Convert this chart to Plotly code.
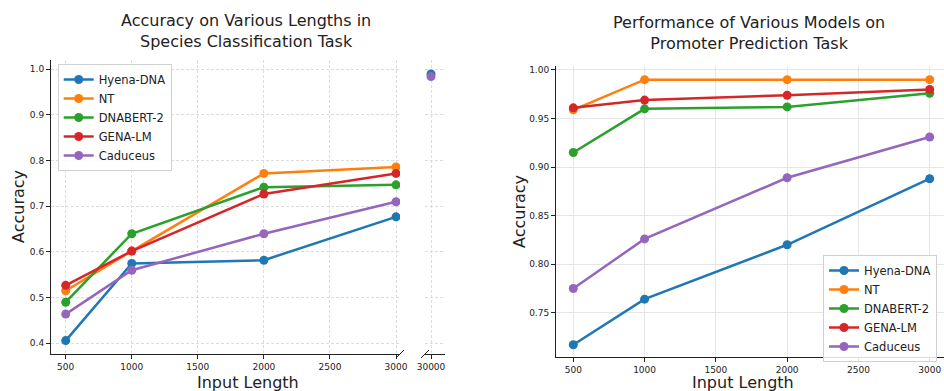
import plotly.graph_objects as go

W, H = 944, 391
models = ["Hyena-DNA", "NT", "DNABERT-2", "GENA-LM", "Caduceus"]
colors = ["#1f77b4", "#ff7f0e", "#2ca02c", "#d62728", "#9467bd"]

# Left chart: species classification
lengths = [500, 1000, 2000, 3000]
species_acc = {
    "Hyena-DNA": [0.406, 0.575, 0.582, 0.677],
    "NT": [0.515, 0.602, 0.772, 0.786],
    "DNABERT-2": [0.490, 0.640, 0.742, 0.747],
    "GENA-LM": [0.527, 0.602, 0.727, 0.772],
    "Caduceus": [0.464, 0.560, 0.640, 0.710],
}
long_length = [30000]
species_acc_long = {
    "Hyena-DNA": [0.990],
    "Caduceus": [0.984],
}
left_yticks = [0.4, 0.5, 0.6, 0.7, 0.8, 0.9, 1.0]
left_xticks = [500, 1000, 1500, 2000, 2500, 3000]

# Right chart: promoter prediction
promoter_acc = {
    "Hyena-DNA": [0.717, 0.764, 0.820, 0.888],
    "NT": [0.959, 0.990, 0.990, 0.990],
    "DNABERT-2": [0.915, 0.960, 0.962, 0.976],
    "GENA-LM": [0.961, 0.969, 0.974, 0.980],
    "Caduceus": [0.775, 0.826, 0.889, 0.931],
}
right_yticks = [0.75, 0.80, 0.85, 0.90, 0.95, 1.00]

FONT = "DejaVu Sans"

def px(x):
    return x / W

def py(y):
    return 1 - y / H

fig = go.Figure()

for m, c in zip(models, colors):
    fig.add_trace(go.Scatter(
        x=lengths, y=species_acc[m], name=m, mode="lines+markers",
        line=dict(color=c, width=2.5), marker=dict(color=c, size=9),
        xaxis="x", yaxis="y", legend="legend",
    ))
for m, c in zip(models, colors):
    if m in species_acc_long:
        fig.add_trace(go.Scatter(
            x=long_length, y=species_acc_long[m], name=m, mode="markers",
            marker=dict(color=c, size=9), showlegend=False,
            xaxis="x2", yaxis="y2",
        ))
for m, c in zip(models, colors):
    fig.add_trace(go.Scatter(
        x=lengths, y=promoter_acc[m], name=m, mode="lines+markers",
        line=dict(color=c, width=2.5), marker=dict(color=c, size=9),
        xaxis="x3", yaxis="y3", legend="legend2",
    ))

tickfont = dict(family=FONT, size=9, color="#222")
grid_dash = dict(showgrid=True, gridcolor="#dcdcdc", griddash="3px,2px", gridwidth=1)
axis_line = dict(showline=True, linecolor="#222", linewidth=1, ticks="outside",
                 ticklen=4, tickcolor="#222", tickfont=tickfont, zeroline=False,
                 automargin=False)

legend_font = dict(family=FONT, size=11.5, color="#222")

fig.update_layout(
    width=W, height=H, margin=dict(l=0, r=0, t=0, b=0, autoexpand=False),
    paper_bgcolor="white", plot_bgcolor="white",
    font=dict(family=FONT, color="#222"),
    xaxis=dict(domain=[px(51), px(400)], range=[388.7, 3030.3], anchor="y",
               tickvals=left_xticks, ticktext=[str(v) for v in left_xticks],
               **grid_dash, **axis_line),
    yaxis=dict(domain=[py(354), py(60)], range=[0.3766, 1.0204], anchor="x",
               tickvals=left_yticks, ticktext=[f"{v:.1f}" for v in left_yticks],
               **grid_dash, **axis_line),
    xaxis2=dict(domain=[px(425), px(445)], range=[29700, 30700], anchor="y2",
                tickvals=long_length, ticktext=[str(v) for v in long_length],
                **grid_dash, **axis_line),
    yaxis2=dict(domain=[py(354), py(60)], range=[0.3766, 1.0204], anchor="x2",
                showticklabels=False, showline=False, ticks="",
                tickvals=left_yticks, zeroline=False, automargin=False,
                showgrid=True, gridcolor="#dcdcdc", griddash="3px,2px"),
    xaxis3=dict(domain=[px(556), 1.0], range=[378.6, 3100.3], anchor="y3",
                tickvals=left_xticks, ticktext=[str(v) for v in left_xticks],
                showgrid=True, gridcolor="#e6e6e6", gridwidth=1.2, **axis_line),
    yaxis3=dict(domain=[py(357), py(66)], range=[0.7044, 1.0041], anchor="x3",
                tickvals=right_yticks, ticktext=[f"{v:.2f}" for v in right_yticks],
                showgrid=True, gridcolor="#e6e6e6", gridwidth=1.2, **axis_line),
    legend=dict(x=px(57.7), y=py(64), xanchor="left", yanchor="top",
                bgcolor="rgba(255,255,255,0.85)", bordercolor="#d0d0d0", borderwidth=1,
                font=legend_font, itemwidth=30, tracegroupgap=0),
    legend2=dict(x=px(823), y=py(255), xanchor="left", yanchor="top",
                 bgcolor="rgba(255,255,255,0.85)", bordercolor="#d0d0d0", borderwidth=1,
                 font=legend_font, itemwidth=30, tracegroupgap=0),
)

annotations = [
    dict(text="Accuracy on Various Lengths in<br>Species Classification Task",
         x=px(246), y=py(31), font=dict(family=FONT, size=16, color="#222")),
    dict(text="Performance of Various Models on<br>Promoter Prediction Task",
         x=px(749), y=py(33), font=dict(family=FONT, size=16, color="#222")),
    dict(text="Input Length", x=px(248), y=py(382), font=dict(family=FONT, size=16, color="#222")),
    dict(text="Input Length", x=px(743), y=py(382), font=dict(family=FONT, size=16, color="#222")),
    dict(text="Accuracy", x=px(18), y=py(207), textangle=-90, font=dict(family=FONT, size=16, color="#222")),
    dict(text="Accuracy", x=px(519), y=py(212), textangle=-90, font=dict(family=FONT, size=16, color="#222")),
]
for a in annotations:
    a.update(xref="paper", yref="paper", showarrow=False, xanchor="center", yanchor="middle")
fig.update_layout(annotations=annotations)

# axis-break marks
shapes = []
for cx in (400, 425):
    shapes.append(dict(type="line", xref="paper", yref="paper",
                       x0=px(cx - 4), y0=py(358), x1=px(cx + 4), y1=py(350),
                       line=dict(color="#222", width=1)))
fig.update_layout(shapes=shapes)

fig.write_html("out.html",
               config={"displayModeBar": False},
               post_script="document.body.style.margin='0';document.body.style.overflow='hidden';")
